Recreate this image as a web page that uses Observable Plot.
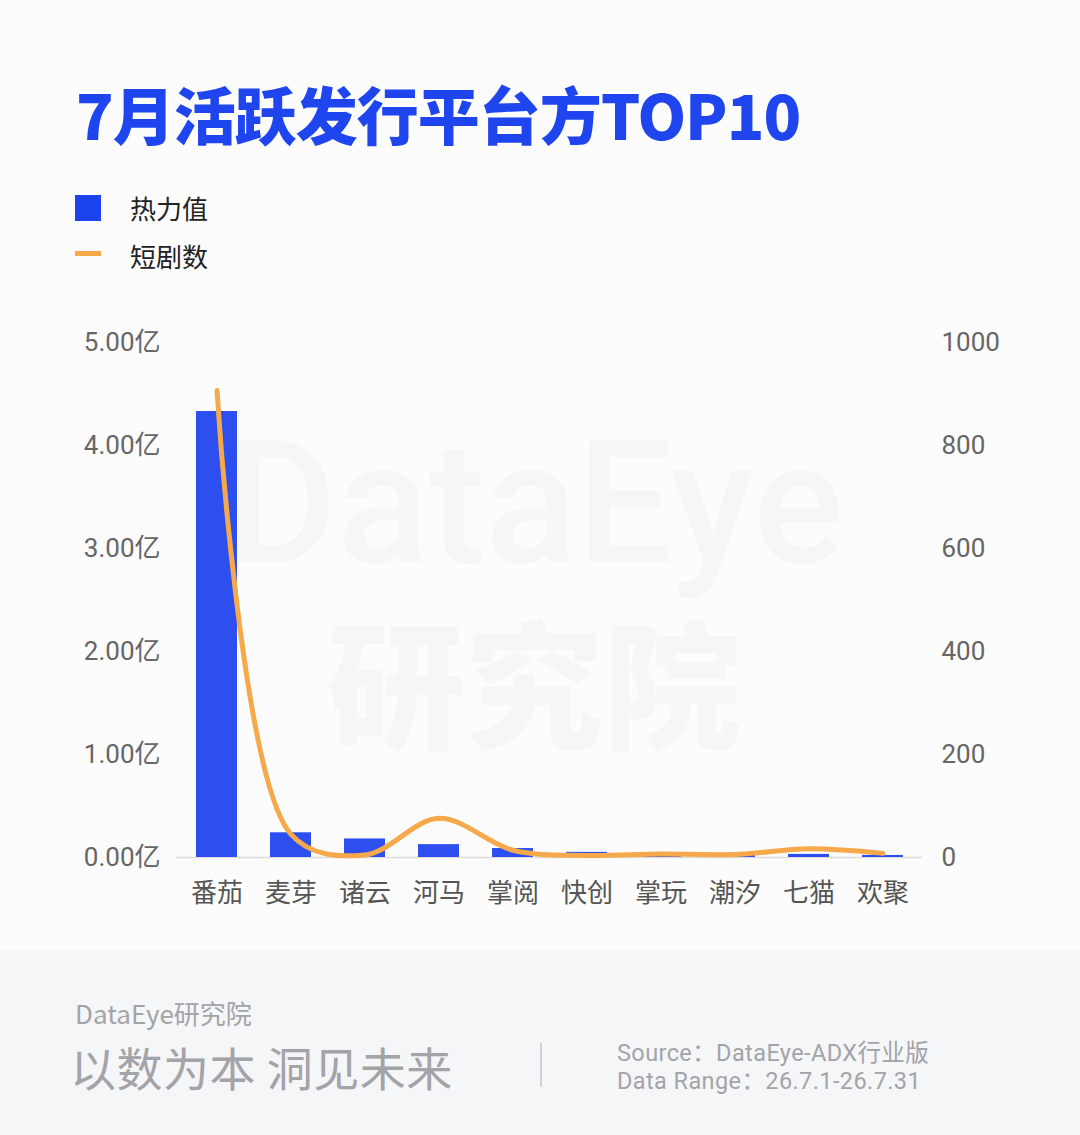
<!DOCTYPE html>
<html><head><meta charset="utf-8">
<script src="https://cdn.jsdelivr.net/npm/d3@7"></script>
<script src="https://cdn.jsdelivr.net/npm/@observablehq/plot@0.6"></script>
<style>
body{margin:0;width:1080px;height:1135px;background:#fcfcfc;position:relative;overflow:hidden;font-family:"Noto Sans CJK SC","Noto Sans",sans-serif;}
.abs{position:absolute;white-space:nowrap;line-height:1;}
#wm{position:absolute;left:0;top:0;}
#title{left:76px;top:82px;font-size:62px;font-weight:900;color:#1f45ee;letter-spacing:-1px;}
.lg{left:130px;font-size:26px;color:#222;}
#chart{position:absolute;left:0;top:300px;}
#footer{position:absolute;left:0;top:950px;width:1080px;height:185px;background:#f5f6f8;}
.ft{color:#a3a3a8;}
</style></head><body>
<svg id="wm" width="1080" height="940"><text fill="#f6f6f7" font-family="Roboto, Noto Sans CJK SC, sans-serif"><tspan x="226" y="562" font-size="170" font-weight="500">DataEye</tspan><tspan x="327" y="738" font-size="138" font-weight="900">研究院</tspan></text></svg>
<div id="title" class="abs">7月活跃发行平台方TOP10</div>
<div class="abs" style="left:75px;top:195px;width:26px;height:26px;background:#1d42ef;"></div>
<div class="abs lg" style="top:195px;">热力值</div>
<div class="abs" style="left:75px;top:251px;width:26px;height:5px;background:#f5a94a;"></div>
<div class="abs lg" style="top:243px;">短剧数</div>
<div id="chart"></div>
<div id="footer">
  <div class="abs ft" style="left:75px;top:50px;font-size:26px;">DataEye研究院</div>
  <div class="abs ft" style="left:70px;top:93px;font-size:46px;letter-spacing:0.5px;">以数为本 洞见未来</div>
  <div class="abs" style="left:540px;top:93px;width:1.5px;height:44px;background:#d0d0d4;"></div>
  <div class="abs ft" style="left:617px;top:89px;font-size:23.5px;line-height:28px;letter-spacing:0.4px;font-family:Roboto,'Noto Sans CJK SC',sans-serif;">Source：DataEye-ADX行业版<br>Data Range：26.7.1-26.7.31</div>
</div>
<script>
const platforms = ["番茄","麦芽","诸云","河马","掌阅","快创","掌玩","潮汐","七猫","欢聚"];
const heat = [4.33, 0.24, 0.18, 0.125, 0.087, 0.05, 0.03, 0.04, 0.03, 0.02]; // 亿
const dramas = [907, 45, 5, 76, 14, 4, 7, 6, 17, 8];
const leftTicks = [0, 1, 2, 3, 4, 5];
const rightTicks = [0, 200, 400, 600, 800, 1000];
const ratio = 200; // right-axis units per left-axis unit

const data = platforms.map((p, i) => ({p, heat: heat[i], dramas: dramas[i]}));
const font = '"Noto Sans CJK SC","Noto Sans",sans-serif';
const numFont = 'Roboto,"Noto Sans CJK SC",sans-serif';

const chart = Plot.plot({
  width: 1080, height: 640,
  marginLeft: 176, marginRight: 158, marginTop: 42, marginBottom: 83,
  style: {background: "transparent", fontFamily: font, overflow: "visible"},
  x: {domain: platforms, paddingInner: 0.45, paddingOuter: 0.225, label: null},
  y: {domain: [0, 5], label: null},
  marks: [
    Plot.ruleY([0], {stroke: "#dcdcdc", strokeWidth: 1.5}),
    Plot.barY(data, {x: "p", y: "heat", fill: "#2d4fef"}),
    Plot.line(data, {x: "p", y: d => d.dramas / ratio, stroke: "#f5a94a", strokeWidth: 5, curve: "catmull-rom"}),
    Plot.axisY(leftTicks, {anchor: "left", tickSize: 0, tickPadding: 16, tickFormat: d => d.toFixed(2) + "亿", fontSize: 26, fontFamily: numFont, color: "#666", label: null}),
    Plot.axisY(rightTicks.map(v => v / ratio), {anchor: "right", tickSize: 0, tickPadding: 19, tickFormat: d => String(Math.round(d * ratio)), fontSize: 26, fontFamily: numFont, color: "#666", label: null}),
    Plot.axisX({tickSize: 0, tickPadding: 26, fontSize: 26, color: "#555", label: null})
  ]
});
document.getElementById("chart").appendChild(chart);
</script>
</body></html>
